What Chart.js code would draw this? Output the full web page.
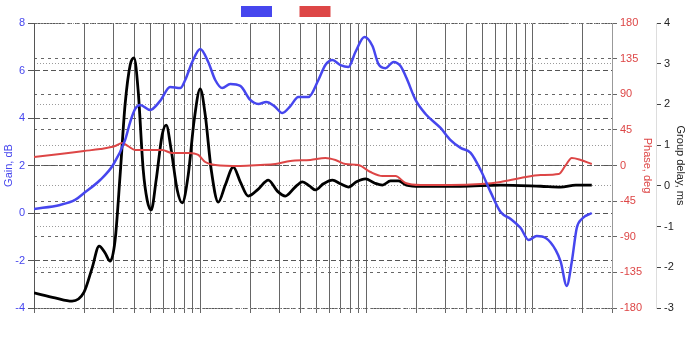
<!DOCTYPE html>
<html>
<head>
<meta charset="utf-8">
<script src="https://cdn.jsdelivr.net/npm/chart.js@4/dist/chart.umd.min.js"></script>
<style>
  html, body { margin: 0; padding: 0; background: #ffffff; }
  #wrap { width: 690px; height: 345px; }
</style>
</head>
<body>
<div id="wrap"><canvas id="c" width="690" height="345"></canvas></div>
<script>
// Frequency grid (Hz): 1..9 per decade from 10 Hz to 30 kHz
const gridFreqs = [
  10, 20, 30, 40, 50, 60, 70, 80, 90,
  100, 200, 300, 400, 500, 600, 700, 800, 900,
  1000, 2000, 3000, 4000, 5000, 6000, 7000, 8000, 9000,
  10000, 20000, 30000
];

// Magnitude response, dB
const gainFreq = [10, 14.35, 17.66, 20, 25, 29.9, 35.3, 37.9, 40.6, 43.5, 50, 57.4, 65.9, 75.8, 81.2, 89.5, 100, 111.7, 123.1, 135.7, 151.6, 174.2, 200, 223.5, 249.8, 279.1, 311.9, 348.5, 389.2, 447.4, 513.8, 566.3, 623.8, 697.2, 779.1, 858.4, 972.6, 1086.8, 1180.9, 1301.9, 1454.6, 1602.6, 1741.5, 1973.6, 2267, 2791, 3206, 3684, 4232, 4862, 5585, 6415, 7371, 8468, 9461, 10568, 11970, 13760, 14750, 16020, 17180, 18410, 19730, 22670];
const gainDb = [0.17, 0.34, 0.55, 0.84, 1.39, 2.02, 3.07, 3.83, 4.38, 4.55, 4.34, 4.72, 5.31, 5.26, 5.6, 6.36, 6.91, 6.36, 5.6, 5.26, 5.43, 5.35, 4.76, 4.59, 4.67, 4.5, 4.21, 4.5, 4.88, 4.88, 5.6, 6.23, 6.44, 6.23, 6.15, 6.78, 7.41, 7.03, 6.27, 6.1, 6.36, 6.19, 5.68, 4.76, 4.17, 3.58, 3.07, 2.74, 2.53, 1.81, 0.88, 0.04, -0.25, -0.63, -1.14, -0.97, -1.05, -1.56, -2.06, -3.07, -2.06, -0.63, -0.25, 0.0];

// Phase response, degrees
const phaseFreq = [10, 14.35, 20, 25, 30.76, 33.9, 36.8, 40.6, 50, 59, 67.8, 84.7, 97.3, 107.2, 123.1, 174.2, 229.8, 283, 348.5, 459.9, 566.3, 650.7, 747.2, 894.8, 1056.9, 1248.6, 1495.6, 1717.9, 2115.3, 3206, 4862, 6415, 8468, 11170, 14350, 15810, 17180, 19460, 22670];
const phaseDeg = [10.7, 14.5, 18.3, 20.8, 24.6, 28.4, 24.6, 19.6, 19.6, 19.6, 15.8, 15.8, 13.3, 4.4, 0.6, -0.6, 0.6, 1.9, 5.7, 7, 9.5, 7, 1.9, 0.6, -8.2, -13.3, -13.3, -22.1, -24.6, -24.6, -23.4, -20.8, -15.8, -12, -10.7, 0.6, 9.5, 7, 1.9];

// Group delay, ms
const delayFreq = [10, 13.38, 16.94, 20, 22.36, 24.64, 26.78, 28.7, 30.76, 32.97, 35.3, 37.9, 40, 42.3, 45.4, 47.95, 50.7, 54.3, 59, 62.4, 66.9, 72.7, 77.9, 84.7, 92, 100, 107.2, 116.5, 128.4, 141.5, 158.1, 174.2, 194.6, 223.5, 256.8, 291, 325.2, 368.5, 411.7, 453.6, 493.1, 550.8, 623.8, 697.2, 779.1, 870.8, 986.3, 1117, 1248.6, 1395.4, 1558.9, 1741.5, 2115.3, 3684, 6415, 11170, 14750, 18160, 22670];
const delayMs = [-2.63, -2.75, -2.83, -2.61, -2.02, -1.48, -1.65, -1.85, -1.33, 0.27, 1.99, 2.97, 3.14, 2.35, 0.39, -0.35, -0.59, 0.14, 1.25, 1.49, 0.88, -0.1, -0.42, 0.27, 1.62, 2.38, 1.74, 0.39, -0.4, 0.02, 0.46, 0.1, -0.25, -0.08, 0.14, -0.13, -0.25, -0.05, 0.1, 0, -0.1, 0.05, 0.14, 0.05, -0.03, 0.1, 0.17, 0.07, 0.02, 0.12, 0.12, 0.02, -0.01, -0.01, 0.02, -0.01, -0.03, 0.02, 0.02];

const BLUE = '#4646ee';
const RED = '#dd4646';
const FONT = 'Liberation Sans, Arial, Helvetica, sans-serif';

const toPoints = (xs, ys) => xs.map((x, i) => ({ x: x, y: ys[i] }));

// Colour keys above the plot, drawn from the datasets that carry one
const legendBoxes = {
  id: 'legendBoxes',
  afterDraw(chart, args, opts) {
    const ctx = chart.ctx;
    let x = opts.x;
    chart.data.datasets.forEach(ds => {
      if (!ds.showKey) return;
      ctx.save();
      ctx.fillStyle = ds.borderColor;
      ctx.strokeStyle = ds.borderColor;
      ctx.lineWidth = 1;
      ctx.fillRect(x, opts.y, opts.width, opts.height);
      ctx.strokeRect(x, opts.y, opts.width, opts.height);
      ctx.restore();
      x += opts.width + opts.gap;
    });
  }
};

Chart.defaults.font.family = FONT;
Chart.defaults.font.size = 11;

new Chart(document.getElementById('c'), {
  type: 'line',
  data: {
    datasets: [
      {
        label: 'Gain',
        showKey: true,
        data: toPoints(gainFreq, gainDb),
        yAxisID: 'y',
        borderColor: BLUE,
        backgroundColor: BLUE,
        borderWidth: 2.5,
        pointRadius: 0,
        cubicInterpolationMode: 'monotone',
        order: 1
      },
      {
        label: 'Phase',
        showKey: true,
        data: toPoints(phaseFreq, phaseDeg),
        yAxisID: 'yPhase',
        borderColor: RED,
        backgroundColor: RED,
        borderWidth: 2,
        pointRadius: 0,
        cubicInterpolationMode: 'monotone',
        order: 2
      },
      {
        label: 'Group delay',
        showKey: false,
        data: toPoints(delayFreq, delayMs),
        yAxisID: 'yDelay',
        borderColor: '#000000',
        backgroundColor: '#000000',
        borderWidth: 2.8,
        pointRadius: 0,
        cubicInterpolationMode: 'monotone',
        order: 3
      }
    ]
  },
  options: {
    responsive: false,
    devicePixelRatio: 1,
    animation: false,
    layout: { padding: { top: 23, bottom: 31, left: 0, right: 0 } },
    plugins: {
      legend: { display: false },
      tooltip: { enabled: false },
      legendBoxes: { x: 241.5, y: 6.5, width: 30, height: 10, gap: 28.5 }
    },
    scales: {
      x: {
        type: 'logarithmic',
        min: 10,
        max: 30000,
        afterBuildTicks: s => { s.ticks = gridFreqs.map(v => ({ value: v })); },
        afterFit: s => { s.height = 6; },
        ticks: { display: false },
        grid: { color: '#666666', lineWidth: 1, tickLength: 5, tickColor: '#666666' },
        border: { display: false }
      },
      y: {
        position: 'left',
        min: -4,
        max: 8,
        afterFit: s => { s.width = 34; },
        ticks: { stepSize: 2, color: BLUE, padding: 3 },
        grid: { color: '#555555', tickLength: 6, tickColor: '#555555' },
        border: { display: true, color: '#555555', dash: [5, 3] },
        title: { display: true, text: 'Gain, dB', color: BLUE, padding: { top: 2, bottom: 0 } }
      },
      yPhase: {
        position: 'right',
        min: -180,
        max: 180,
        afterFit: s => { s.width = 44; },
        ticks: { stepSize: 45, color: RED, padding: 3 },
        grid: { color: '#666666', tickLength: 5, tickColor: '#666666' },
        border: { display: true, color: '#999999', dash: [3, 4] },
        title: { display: true, text: 'Phase, deg', color: RED, padding: { top: 2, bottom: 0 } }
      },
      yDelay: {
        position: 'right',
        min: -3,
        max: 4,
        afterFit: s => { s.width = 34; },
        ticks: { stepSize: 1, color: '#222222', padding: 3 },
        grid: { color: '#9a9a9a', tickLength: 5, tickColor: '#444444' },
        border: { display: true, color: '#dddddd', dash: [1, 2] },
        title: { display: true, text: 'Group delay, ms', color: '#222222', padding: { top: 3, bottom: 0 } }
      }
    }
  },
  plugins: [legendBoxes]
});
</script>
</body>
</html>
